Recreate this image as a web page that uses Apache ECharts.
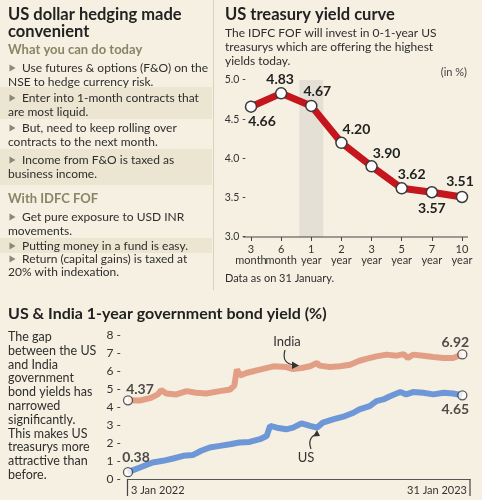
<!DOCTYPE html>
<html><head><meta charset="utf-8">
<script src="https://cdn.jsdelivr.net/npm/echarts@6/dist/echarts.min.js"></script>
<style>html,body{margin:0;padding:0;background:#f5f0e1;}#c{width:482px;height:500px;}</style>
</head><body><div id="c"></div>
<script>
// ---------- DATA ----------
const curveCats = ['3\nmonth','6\nmonth','1\nyear','2\nyear','3\nyear','5\nyear','7\nyear','10\nyear'];
const curveYields = [4.66, 4.83, 4.67, 4.20, 3.90, 3.62, 3.57, 3.51];
const curveYMin = 3.0, curveYMax = 5.0, curveYStep = 0.5;
const highlightCat = '1\nyear';

const indiaDates = ['2022-01-03','2022-01-17','2022-01-30','2022-02-07','2022-02-11','2022-02-17','2022-03-01','2022-03-13','2022-03-24','2022-04-05','2022-04-21','2022-05-03','2022-05-08','2022-05-11','2022-05-15','2022-05-22','2022-06-07','2022-06-23','2022-07-08','2022-07-16','2022-07-26','2022-08-05','2022-08-13','2022-08-16','2022-08-28','2022-09-09','2022-09-21','2022-10-02','2022-10-10','2022-10-22','2022-11-03','2022-11-15','2022-11-23','2022-11-28','2022-12-04','2022-12-16','2022-12-28','2023-01-09','2023-01-20','2023-01-31'];
const indiaYield = [4.37,4.36,4.51,4.70,4.94,4.75,4.70,4.88,4.79,4.75,4.88,4.97,5.19,6.08,5.75,5.89,6.08,6.26,6.22,6.11,6.17,6.26,6.45,6.30,6.22,6.26,6.35,6.57,6.67,6.81,6.91,6.85,6.94,6.72,6.91,6.85,6.78,6.72,6.72,6.92];

const usDates = ['2022-01-03','2022-01-17','2022-02-01','2022-02-13','2022-02-25','2022-03-09','2022-03-20','2022-03-30','2022-04-09','2022-04-21','2022-05-03','2022-05-14','2022-05-26','2022-06-07','2022-06-15','2022-06-19','2022-06-27','2022-07-08','2022-07-16','2022-07-26','2022-08-05','2022-08-13','2022-08-20','2022-09-01','2022-09-13','2022-09-25','2022-10-02','2022-10-14','2022-10-22','2022-10-30','2022-11-07','2022-11-19','2022-11-26','2022-12-04','2022-12-16','2022-12-28','2023-01-09','2023-01-20','2023-01-31'];
const usYield = [0.38,0.64,0.92,1.01,1.14,1.29,1.33,1.57,1.75,1.84,1.93,2.03,2.06,2.21,2.39,2.95,2.85,2.76,2.85,3.09,2.95,2.85,3.13,3.31,3.46,3.68,3.87,4.05,4.33,4.42,4.60,4.83,4.70,4.83,4.79,4.70,4.79,4.75,4.65];

const bondYMin = 0, bondYMax = 8, bondYStep = 1;
const bondAxisStart = '2022-01-03', bondAxisEnd = '2023-02-09';
const bondDateLabels = ['3 Jan 2022', '31 Jan 2023'];

// ---------- TEXT ----------
const leftTitle = ['US dollar hedging made', 'convenient'];
const leftLines = [
  {t:'What you can do today', y:50, head:true},
  {t:'Use futures & options (F&O) on the', y:68, bullet:true},
  {t:'NSE to hedge currency risk.', y:82},
  {t:'Enter into 1-month contracts that', y:98, bullet:true},
  {t:'are most liquid.', y:112},
  {t:'But, need to keep rolling over', y:128, bullet:true},
  {t:'contracts to the next month.', y:142},
  {t:'Income from F&O is taxed as', y:160, bullet:true},
  {t:'business income.', y:174},
  {t:'With IDFC FOF', y:199, head:true},
  {t:'Get pure exposure to USD INR', y:217, bullet:true},
  {t:'movements.', y:231},
  {t:'Putting money in a fund is easy.', y:246, bullet:true},
  {t:'Return (capital gains) is taxed at', y:259, bullet:true},
  {t:'20% with indexation.', y:272}
];
const leftBands = [[87,119],[149,185],[238,253]];
const curveTitle = 'US treasury yield curve';
const curveSub = ['The IDFC FOF will invest in 0-1-year US','treasurys which are offering the highest','yields today.'];
const curveNote = 'Data as on 31 January.';
const bondTitle = 'US & India 1-year government bond yield (%)';
const bondText = ['The gap','between the US','and India','government','bond yields has','narrowed','significantly.','This makes US','treasurys more','attractive than','before.'];

// ---------- STYLE ----------
const BG = '#f5f0e1', BAND = '#ece5d1', INK = '#222', BODY = '#2e2e2e', OLIVE = '#8a8466';
const RED = '#c4161c', INDIA = '#e39f86', US = '#6e97d7';
const FONT = 'Lato, "Open Sans", sans-serif';
const curveLabelPos = [
  {position:'bottom', offset:[11,-3]},
  {position:'top', offset:[-1,4]},
  {position:'top', offset:[6,4]},
  {position:'top', offset:[15,5]},
  {position:'top', offset:[15,5]},
  {position:'top', offset:[10,4]},
  {position:'bottom', offset:[0,-2]},
  {position:'top', offset:[-2,3]}
];

const chart = echarts.init(document.getElementById('c'), null, {renderer:'canvas'});

const endPoints = [
  {value:[indiaDates[0], indiaYield[0]], label:{position:'top', offset:[12,6]}},
  {value:[usDates[0], usYield[0]], label:{position:'top', offset:[8,2]}},
  {value:[indiaDates[indiaDates.length-1], indiaYield[indiaYield.length-1]], label:{position:'top', offset:[-7,5]}},
  {value:[usDates[usDates.length-1], usYield[usYield.length-1]], label:{position:'bottom', offset:[-7,-3]}}
];

chart.setOption({
  backgroundColor: BG,
  animation: false,
  textStyle: {fontFamily: FONT},
  grid: [
    {left:251, right:20, top:80, bottom:263},
    {left:128, right:12, top:335, bottom:21}
  ],
  xAxis: [
    {gridIndex:0, type:'category', data:curveCats, boundaryGap:false,
     axisLine:{show:false}, axisTick:{show:true, length:4, lineStyle:{color:'#444'}},
     axisLabel:{interval:0, fontSize:11, lineHeight:11, color:'#333', margin:7, fontFamily:FONT},
     splitLine:{show:false}},
    {gridIndex:1, type:'time', min:bondAxisStart, max:bondAxisEnd,
     axisLine:{show:true, lineStyle:{color:'#555', width:1}}, axisTick:{show:false},
     axisLabel:{show:false}, splitLine:{show:false}}
  ],
  yAxis: [
    {gridIndex:0, type:'value', min:curveYMin, max:curveYMax, interval:curveYStep,
     axisLine:{show:false}, axisTick:{show:false}, splitLine:{show:false},
     axisLabel:{formatter:v=>v.toFixed(1)+' -', fontSize:10.5, color:'#333', margin:5, fontFamily:FONT}},
    {gridIndex:1, type:'value', min:bondYMin, max:bondYMax, interval:bondYStep,
     axisLine:{show:false}, axisTick:{show:false}, splitLine:{show:false},
     axisLabel:{formatter:'{value} -', fontSize:12, color:'#333', margin:7, fontFamily:FONT}}
  ],
  series: [
    {type:'bar', xAxisIndex:0, yAxisIndex:0, silent:true, barWidth:24,
     data: curveCats.map(c => c === highlightCat ? curveYMax : null),
     itemStyle:{color:'#e4e0d6'}, z:1},
    {type:'line', xAxisIndex:0, yAxisIndex:0, z:3,
     data: curveYields.map((v,i)=>({value:v, label:curveLabelPos[i]})),
     lineStyle:{color:RED, width:7},
     symbol:'circle', symbolSize:11,
     itemStyle:{color:'#fff', borderColor:'#3a3a3a', borderWidth:1.5},
     label:{show:true, fontSize:14, fontWeight:'bold', color:INK, distance:5, fontFamily:FONT,
            formatter:p=>p.value.toFixed(2)}},
    {type:'line', xAxisIndex:1, yAxisIndex:1, z:2, symbol:'none',
     data: indiaDates.map((d,i)=>[d, indiaYield[i]]),
     lineStyle:{color:INDIA, width:6}},
    {type:'line', xAxisIndex:1, yAxisIndex:1, z:2, symbol:'none',
     data: usDates.map((d,i)=>[d, usYield[i]]),
     lineStyle:{color:US, width:6}},
    {type:'scatter', xAxisIndex:1, yAxisIndex:1, z:4, symbolSize:9,
     itemStyle:{color:'#fff', borderColor:'#333', borderWidth:1.3},
     data: endPoints,
     label:{show:true, fontSize:14, fontWeight:'bold', color:INK, distance:5, fontFamily:FONT,
            formatter:p=>p.value[1].toFixed(2)}}
  ]
});

// ---------- GRAPHIC (text, panels, decorations) ----------
const g = [];
function txt(t, x, y, size, opt) {
  opt = opt || {};
  g.push({type:'text', silent:true, z:10, style:{
    text:t, x:x, y:y, fill:opt.fill||BODY,
    font:(opt.weight||'normal')+' '+size+'px '+FONT,
    align:opt.align||'left', verticalAlign:'middle'}});
}
leftBands.forEach(b => g.push({type:'rect', silent:true, z:0, shape:{x:0, y:b[0], width:212, height:b[1]-b[0]}, style:{fill:BAND}}));
g.push({type:'line', silent:true, z:1, shape:{x1:213.5, y1:0, x2:213.5, y2:290}, style:{stroke:'#d8d1bf', lineWidth:1}});
txt(leftTitle[0], 8, 15, 16.5, {weight:'bold', fill:INK});
txt(leftTitle[1], 8, 32, 16.5, {weight:'bold', fill:INK});
leftLines.forEach(l => {
  if (l.head) { txt(l.t, 8, l.y, 13, {weight:'bold', fill:OLIVE}); return; }
  if (l.bullet) {
    g.push({type:'polygon', silent:true, z:10, shape:{points:[[9.5,l.y-3.5],[15.5,l.y],[9.5,l.y+3.5]]}, style:{fill:'#8b8779'}});
    txt(l.t, 22, l.y, 12);
  } else txt(l.t, 8, l.y, 12);
});
txt(curveTitle, 225, 15, 16.5, {weight:'bold', fill:INK});
curveSub.forEach((s,i)=>txt(s, 225, 33+i*14, 12));
txt('(in %)', 467, 72, 11, {align:'right', fill:'#444'});
txt(curveNote, 225, 278, 11);
const p0 = chart.convertToPixel({xAxisIndex:0, yAxisIndex:0}, [0, curveYMin]);
const p1 = chart.convertToPixel({xAxisIndex:0, yAxisIndex:0}, [curveCats.length-1, curveYMin]);
g.push({type:'line', silent:true, z:5, shape:{x1:p0[0]-8, y1:p0[1], x2:p1[0]+6, y2:p1[1]}, style:{stroke:'#444', lineWidth:1}});
txt(bondTitle, 8, 314, 16, {weight:'bold', fill:INK});
bondText.forEach((s,i)=>txt(s, 8, 337+i*13.8, 12.5));
const b0 = chart.convertToPixel({xAxisIndex:1, yAxisIndex:1}, [bondAxisStart, bondYMin]);
const b1 = chart.convertToPixel({xAxisIndex:1, yAxisIndex:1}, [bondAxisEnd, bondYMin]);
g.push({type:'line', silent:true, z:5, shape:{x1:b0[0]-0.5, y1:b0[1], x2:b0[0]-0.5, y2:b0[1]+17}, style:{stroke:'#444', lineWidth:1.2}});
g.push({type:'line', silent:true, z:5, shape:{x1:b1[0], y1:b1[1], x2:b1[0], y2:b1[1]+17}, style:{stroke:'#444', lineWidth:1.2}});
txt(bondDateLabels[0], b0[0]+3, b0[1]+11, 11, {fill:'#333'});
txt(bondDateLabels[1], b1[0]-3, b1[1]+11, 11, {fill:'#333', align:'right'});
txt('India', 287, 342, 13, {align:'center', fill:'#333'});
g.push({type:'bezierCurve', silent:true, z:10, shape:{x1:285, y1:350, cpx1:281, cpy1:364, x2:295, y2:365}, style:{stroke:'#333', lineWidth:1.2, fill:null}});
g.push({type:'polygon', silent:true, z:10, shape:{points:[[299,365.5],[292,361.5],[292,369]]}, style:{fill:'#333'}});
txt('US', 306, 458, 13, {align:'center', fill:'#333'});
g.push({type:'bezierCurve', silent:true, z:10, shape:{x1:311, y1:449, cpx1:307, cpy1:438, x2:316.5, y2:434}, style:{stroke:'#333', lineWidth:1.2, fill:null}});
g.push({type:'polygon', silent:true, z:10, shape:{points:[[317,430],[313,436.5],[320,436]]}, style:{fill:'#333'}});

chart.setOption({graphic: g});
</script>
</body></html>
